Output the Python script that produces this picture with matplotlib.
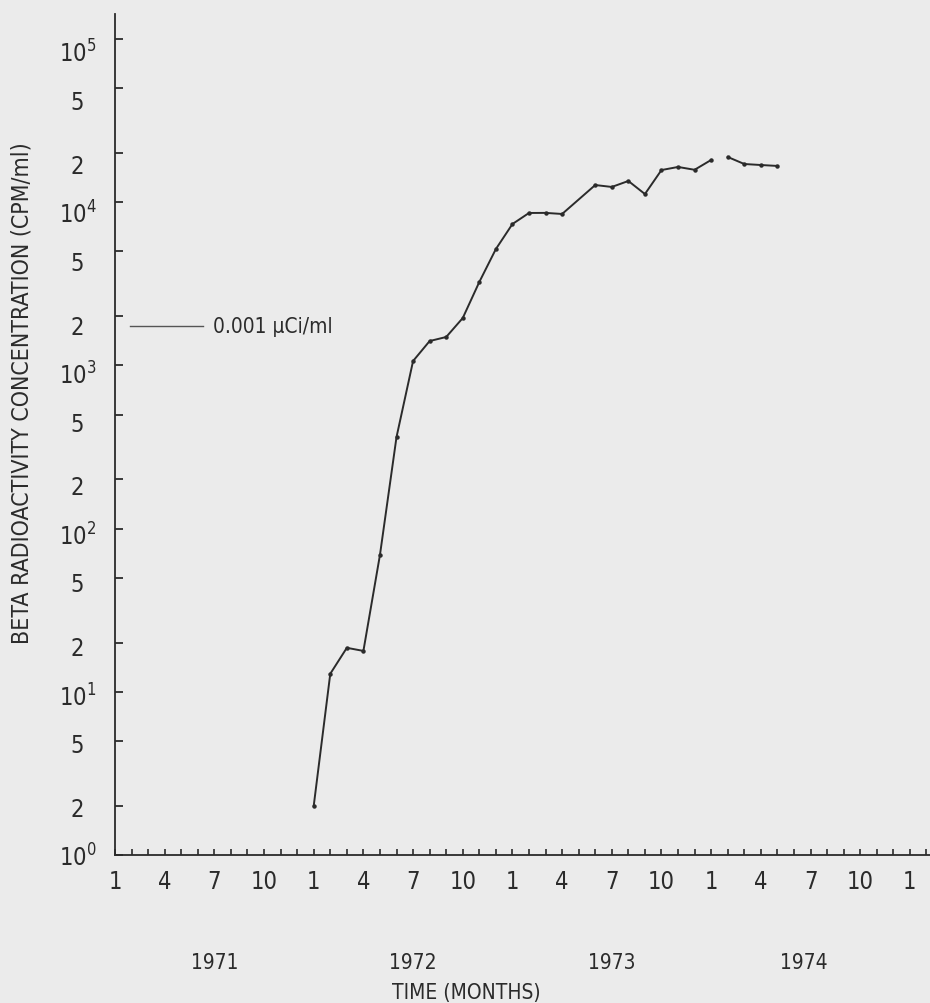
import numpy as np
import matplotlib.pyplot as plt
from matplotlib.ticker import FixedLocator, MultipleLocator
from matplotlib.transforms import ScaledTranslation, blended_transform_factory

plt.rcParams['font.family'] = ['DejaVu Sans']
plt.rcParams['font.stretch'] = 'condensed'
plt.rcParams['mathtext.fontset'] = 'custom'
plt.rcParams['mathtext.rm'] = 'DejaVu Sans:stretch=condensed'

INK = '#2b2b2b'
PAPER = '#ebebeb'

# monthly samples, months counted from January 1971 (0 = Jan 1971)
months = [12, 13, 14, 15, 16, 17, 18, 19, 20, 21, 22, 23, 24, 25, 26, 27,
          29, 30, 31, 32, 33, 34, 35, 36]
beta_cpm = [2.0, 12.9, 18.6, 17.8, 69, 364, 1064, 1410, 1493, 1951, 3245,
            5164, 7350, 8590, 8600, 8470, 12740, 12400, 13490, 11220,
            15740, 16440, 15800, 18150]
# second run of samples in 1974
months_74 = [37, 38, 39, 40]
beta_cpm_74 = [18930, 17140, 16900, 16680]

# reference level for 0.001 uCi/ml
ref_level = 1743
ref_span = [0.9, 5.3]
ref_label = '0.001 µCi/ml'

month_ticks = list(range(0, 49, 3))
month_labels = ['1', '4', '7', '10'] * 4 + ['1']
years = ['1971', '1972', '1973', '1974']
year_pos = [6.0, 18.0, 30.0, 41.6]

y_ticks = [1, 2, 5, 10, 20, 50, 100, 200, 500, 1e3, 2e3, 5e3, 1e4, 2e4, 5e4, 1e5]
y_labels = [r'$\mathregular{10^0}$', '2', '5', r'$\mathregular{10^1}$', '2', '5',
            r'$\mathregular{10^2}$', '2', '5', r'$\mathregular{10^3}$', '2', '5',
            r'$\mathregular{10^4}$', '2', '5', r'$\mathregular{10^5}$']

fig = plt.figure(figsize=(9.3, 10.04), dpi=100, facecolor=PAPER)
ax = fig.add_axes([115 / 930, 148 / 1004, 815 / 930, 841 / 1004])
ax.set_facecolor('none')

ax.set_yscale('log')
ax.set_xlim(0, 815 / 16.56)
ax.set_ylim(1, 10 ** (841 / 163.2))

# concentration curve
line_kw = dict(color=INK, lw=1.4, marker='o', ms=2.2, mfc=INK, mec=INK)
ax.plot(months, beta_cpm, **line_kw)
ax.plot(months_74, beta_cpm_74, **line_kw)

# 0.001 uCi/ml marker
ax.plot(ref_span, [ref_level, ref_level], color='#555555', lw=1.0)
ax.text(ref_span[1] + 0.6, ref_level, ref_label, fontsize=15, color=INK,
        va='center', ha='left')

for side in ('top', 'right'):
    ax.spines[side].set_visible(False)
for side in ('left', 'bottom'):
    ax.spines[side].set_color(INK)
    ax.spines[side].set_linewidth(1.3)

ax.xaxis.set_major_locator(FixedLocator(month_ticks))
ax.xaxis.set_minor_locator(MultipleLocator(1))
ax.set_xticklabels(month_labels)
ax.tick_params(axis='x', which='both', direction='in', length=4, width=1.2,
               color=INK, labelsize=17, labelcolor=INK, pad=10)

ax.yaxis.set_major_locator(FixedLocator(y_ticks))
ax.yaxis.set_minor_locator(FixedLocator([]))
ax.set_yticklabels(y_labels, ha='center')
ax.tick_params(axis='y', which='major', direction='in', length=6, width=1.3,
               color=INK, labelsize=17, labelcolor=INK, pad=27)

# labels sit a little lower than their ticks toward the top of the scale
for val, lbl in zip(y_ticks, ax.get_yticklabels()):
    dy = -12 * np.log10(val) / 5.0
    lbl.set_transform(lbl.get_transform()
                      + ScaledTranslation(0, dy / 100, fig.dpi_scale_trans))

# year labels under the month ticks
xdata_yaxes = blended_transform_factory(ax.transData, ax.transAxes)
for yr, xp in zip(years, year_pos):
    ax.text(xp, -0.127, yr, transform=xdata_yaxes, ha='center', va='center',
            fontsize=15, color=INK)

ax.text(21.2, -0.163, 'TIME (MONTHS)', transform=xdata_yaxes, ha='center',
        va='center', fontsize=15, color=INK)
fig.text(22 / 930, 1 - 393 / 1004, 'BETA RADIOACTIVITY CONCENTRATION (CPM/ml)',
         rotation=90, ha='center', va='center', fontsize=16.6, color=INK)

fig.savefig('out.png', dpi=100, facecolor=PAPER)
